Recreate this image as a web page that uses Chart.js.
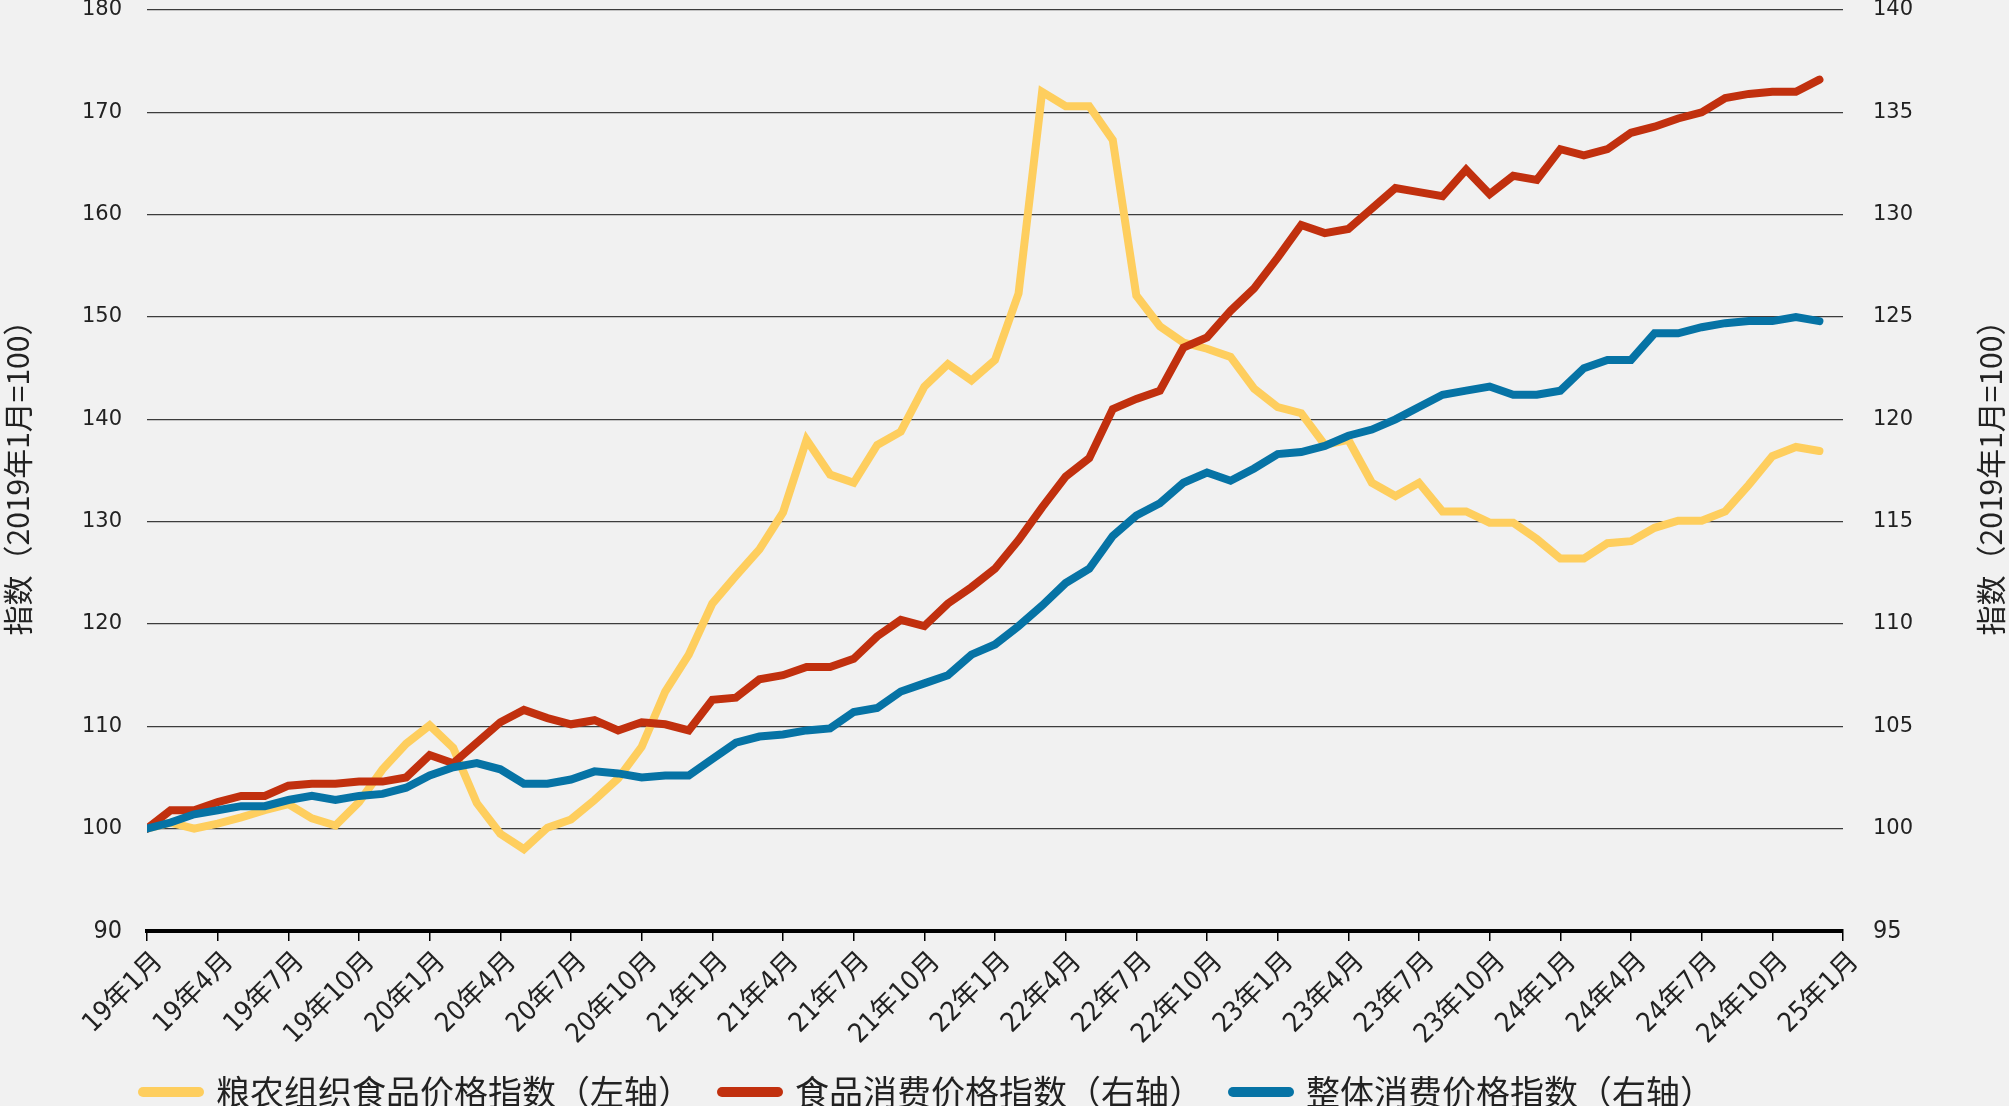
<!DOCTYPE html>
<html>
<head>
<meta charset="utf-8">
<script src="https://cdn.jsdelivr.net/npm/chart.js@4.4.1/dist/chart.umd.min.js"></script>
<style>
  html, body { margin: 0; padding: 0; background: #f1f1f1; }
  #wrap { width: 2009px; height: 1106px; }
</style>
</head>
<body>
<div id="wrap"><canvas id="chart" width="2009" height="1106"></canvas></div>
<script>
// tick labels, one every 3 months (x index 0 = 2019年1月)
var xTickLabels = ['19年1月', '19年4月', '19年7月', '19年10月', '20年1月', '20年4月', '20年7月', '20年10月',
    '21年1月', '21年4月', '21年7月', '21年10月', '22年1月', '22年4月', '22年7月', '22年10月',
    '23年1月', '23年4月', '23年7月', '23年10月', '24年1月', '24年4月', '24年7月', '24年10月', '25年1月'];

var seriesNames = ['粮农组织食品价格指数（左轴）', '食品消费价格指数（右轴）', '整体消费价格指数（右轴）'];
var yTitle = '指数（2019年1月=100）';

// monthly values 2019年1月 .. 2024年12月
var faoIndex = [100.0, 100.6, 100.0, 100.5, 101.1, 101.8, 102.4, 101.0, 100.3, 102.6,
    105.8, 108.3, 110.1, 107.9, 102.5, 99.5, 98.0, 100.1, 100.9, 102.8,
    104.9, 108.0, 113.4, 117.0, 122.0, 124.7, 127.3, 130.9, 138.0, 134.6,
    133.8, 137.5, 138.8, 143.2, 145.4, 143.8, 145.8, 152.3, 172.0, 170.6,
    170.6, 167.3, 152.1, 149.1, 147.5, 146.9, 146.1, 143.0, 141.2, 140.6,
    137.5, 138.0, 133.8, 132.5, 133.8, 131.0, 131.0, 129.9, 129.9, 128.3,
    126.4, 126.4, 127.9, 128.1, 129.4, 130.1, 130.1, 131.0, 133.6, 136.4,
    137.3, 136.9];

var foodCpi = [100.0, 100.9, 100.9, 101.3, 101.6, 101.6, 102.1, 102.2, 102.2, 102.3,
    102.3, 102.5, 103.6, 103.2, 104.2, 105.2, 105.8, 105.4, 105.1, 105.3,
    104.8, 105.2, 105.1, 104.8, 106.3, 106.4, 107.3, 107.5, 107.9, 107.9,
    108.3, 109.4, 110.2, 109.9, 111.0, 111.8, 112.7, 114.1, 115.7, 117.2,
    118.1, 120.5, 121.0, 121.4, 123.5, 124.0, 125.3, 126.4, 127.9, 129.5,
    129.1, 129.3, 130.3, 131.3, 131.1, 130.9, 132.2, 131.0, 131.9, 131.7,
    133.2, 132.9, 133.2, 134.0, 134.3, 134.7, 135.0, 135.7, 135.9, 136.0,
    136.0, 136.6];

var allCpi = [100.0, 100.3, 100.7, 100.9, 101.1, 101.1, 101.4, 101.6, 101.4, 101.6,
    101.7, 102.0, 102.6, 103.0, 103.2, 102.9, 102.2, 102.2, 102.4, 102.8,
    102.7, 102.5, 102.6, 102.6, 103.4, 104.2, 104.5, 104.6, 104.8, 104.9,
    105.7, 105.9, 106.7, 107.1, 107.5, 108.5, 109.0, 109.9, 110.9, 112.0,
    112.7, 114.3, 115.3, 115.9, 116.9, 117.4, 117.0, 117.6, 118.3, 118.4,
    118.7, 119.2, 119.5, 120.0, 120.6, 121.2, 121.4, 121.6, 121.2, 121.2,
    121.4, 122.5, 122.9, 122.9, 124.2, 124.2, 124.5, 124.7, 124.8, 124.8,
    125.0, 124.8];

var colors = ['#fece5e', '#c1300e', '#0673a5'];

var narrow = '"Liberation Sans Narrow", "DejaVu Sans Condensed", "Noto Sans CJK SC", sans-serif';
var cjk = '"Noto Sans CJK SC", sans-serif';
var wide = '"DejaVu Sans", sans-serif';

function toPoints(arr) {
    return arr.map(function (v, i) { return { x: i, y: v }; });
}

function tickFont(c) {
    // the lowest label is set in a narrower face in the original
    return c.index === 0 ? { family: narrow, size: 25 } : { family: wide, size: 21 };
}

// right axis title reads bottom-to-top like the left one
var rightTitle = {
    id: 'rightTitle',
    afterDraw: function (chart) {
        var ctx = chart.ctx, area = chart.chartArea;
        ctx.save();
        ctx.translate(1991, (area.top + area.bottom) / 2);
        ctx.rotate(-Math.PI / 2);
        ctx.font = '30px ' + cjk;
        ctx.fillStyle = '#222';
        ctx.textAlign = 'center';
        ctx.textBaseline = 'middle';
        ctx.fillText(yTitle, 0, 0);
        ctx.restore();
    }
};

// legend sits a bit left of the canvas centre and low in the frame
var legendShift = {
    id: 'legendShift',
    afterLayout: function (chart) {
        var lg = chart.legend;
        lg.left -= 76;
        lg.right -= 76;
        lg.top -= 12;
        lg.bottom -= 12;
    }
};

function makeSet(i, data, axis, order) {
    return {
        label: seriesNames[i],
        data: toPoints(data),
        yAxisID: axis,
        borderColor: colors[i],
        backgroundColor: colors[i],
        borderWidth: 8,
        borderCapStyle: 'round',
        pointRadius: 0,
        tension: 0,
        order: order
    };
}

var ctx = document.getElementById('chart').getContext('2d');
var myChart = new Chart(ctx, {
    type: 'line',
    data: {
        datasets: [
            makeSet(0, faoIndex, 'yLeft', 3),
            makeSet(1, foodCpi, 'yRight', 2),
            makeSet(2, allCpi, 'yRight', 1)
        ]
    },
    options: {
        responsive: false,
        animation: false,
        devicePixelRatio: 1,
        events: [],
        layout: { padding: { top: 0, left: 0, right: 0, bottom: -25 } },
        plugins: {
            tooltip: { enabled: false },
            legend: {
                position: 'bottom',
                labels: {
                    usePointStyle: true,
                    pointStyle: 'line',
                    pointStyleWidth: 56,
                    padding: 30,
                    color: '#222',
                    font: { family: cjk, size: 34 },
                    sort: function (a, b) { return a.datasetIndex - b.datasetIndex; },
                    generateLabels: function (chart) {
                        var items = Chart.defaults.plugins.legend.labels.generateLabels(chart);
                        items.forEach(function (it) {
                            it.lineWidth = 10;
                            it.lineCap = 'round';
                            it.pointStyle = 'line';
                        });
                        return items;
                    }
                }
            }
        },
        scales: {
            x: {
                type: 'linear',
                min: 0,
                max: 72,
                afterFit: function (s) { s.height = 126; s.paddingLeft = 0; s.paddingRight = 0; },
                ticks: {
                    stepSize: 3,
                    autoSkip: false,
                    minRotation: 45,
                    maxRotation: 45,
                    padding: 5,
                    labelOffset: 12,
                    color: '#222',
                    font: { family: narrow, size: 27 },
                    callback: function (v) { return xTickLabels[v / 3]; }
                },
                grid: { drawOnChartArea: false, drawTicks: true, tickLength: 10, color: '#000', lineWidth: 1.5 },
                border: { display: true, color: '#000', width: 4 }
            },
            yLeft: {
                position: 'left',
                min: 90,
                max: 180,
                afterFit: function (s) { s.width = 147; s.paddingTop = 10; s.paddingBottom = 0; },
                ticks: { stepSize: 10, padding: 25, color: '#222', font: tickFont },
                grid: { drawTicks: false, color: '#3c3c3c', lineWidth: 1.3 },
                border: { display: false },
                title: { display: true, text: yTitle, color: '#222', font: { family: cjk, size: 30 }, padding: 0 }
            },
            yRight: {
                position: 'right',
                min: 95,
                max: 140,
                afterFit: function (s) { s.width = 166; s.paddingTop = 10; s.paddingBottom = 0; },
                ticks: { stepSize: 5, padding: 30, color: '#222', font: tickFont },
                grid: { display: false, drawTicks: false },
                border: { display: false }
            }
        }
    },
    plugins: [rightTitle, legendShift]
});
</script>
</body>
</html>
